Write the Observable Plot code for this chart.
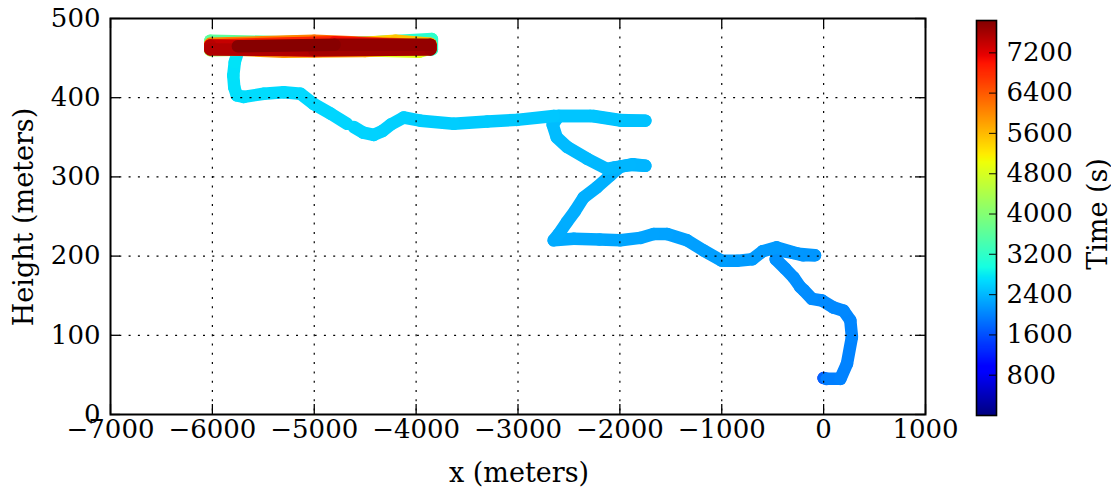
<!DOCTYPE html>
<html><head><meta charset="utf-8">
<script src="https://cdn.jsdelivr.net/npm/d3@7"></script>
<script src="https://cdn.jsdelivr.net/npm/@observablehq/plot@0.6"></script>
<style>
body{margin:0;background:#fff;}
#wrap{position:relative;width:1111px;height:491px;font-family:"DejaVu Serif",serif;background:#fff;overflow:hidden}
.lbl{position:absolute;font-size:27px;line-height:1;white-space:nowrap;transform:translate(-50%,-50%);color:#000}
.rot{transform:translate(-50%,-50%) rotate(-90deg);}
</style></head><body>
<div id="wrap">
 <div id="main" style="position:absolute;left:0;top:0"></div>
 <div id="cbar" style="position:absolute;left:940px;top:0"></div>
 <div class="lbl" style="left:519px;top:472px">x (meters)</div>
 <div class="lbl rot" style="left:23px;top:217px">Height (meters)</div>
 <div class="lbl rot" style="left:1097px;top:214px">Time (s)</div>
</div>
<script>
// ---- data ----
const xTicks = [-7000, -6000, -5000, -4000, -3000, -2000, -1000, 0, 1000];
const yTicks = [0, 100, 200, 300, 400, 500];
const cbTicks = [800, 1600, 2400, 3200, 4000, 4800, 5600, 6400, 7200];
const tMin = 0, tMax = 7842;

// leg 1: take-off to the gap near x = -4650
const leg1X = [0, 0, 30, 164, 229, 278, 262, 196, 98, -16, -115, -196, -229, -295, -376, -470, -440, -300, -200, -85, -250, -460, -600, -700, -850, -998, -1178, -1341, -1537, -1668, -1800, -1995, -2200, -2454, -2650, -2600, -2520, -2440, -2356, -2224, -2093, -1995, -1870, -1750, -1900, -2050, -2126, -2322, -2519, -2620, -2660, -2600, -2290, -1995, -1750, -2000, -2258, -2650, -3010, -3300, -3631, -3958, -4122, -4250, -4330, -4416, -4520, -4612];
const leg1Y = [46, 46, 45, 45, 64, 98, 119, 131, 135, 144, 146, 157, 161, 173, 184, 196, 207, 204, 201, 201, 203, 211, 206, 196, 194, 194, 207, 220, 228, 228, 223, 220, 221, 222, 220, 228, 243, 257, 274, 287, 302, 313, 316, 314, 315, 312, 310, 323, 338, 350, 366, 377, 377, 371, 371, 372, 377, 377, 372, 370, 367, 371, 375, 366, 358, 353, 356, 363];
const leg1T = [0, 1570, 1950, 1970, 1985, 2000, 2010, 2020, 2030, 2040, 2050, 2060, 2065, 2075, 2085, 2095, 2100, 2110, 2120, 2130, 2140, 2150, 2160, 2170, 2180, 2190, 2200, 2210, 2220, 2230, 2240, 2250, 2265, 2280, 2290, 2297, 2305, 2313, 2320, 2330, 2340, 2350, 2360, 2370, 2380, 2390, 2395, 2405, 2415, 2422, 2430, 2435, 2450, 2460, 2470, 2480, 2490, 2505, 2520, 2535, 2550, 2565, 2575, 2582, 2588, 2595, 2600, 2605];

// leg 2: after the gap, climb to the 465 m level and the back-and-forth passes
const leg2X = [-4677, -4841, -5005, -5135, -5299, -5496, -5692, -5760, -5785, -5795, -5780, -5740,
  -5700, -5000, -4400, -3845, -3845, -4600, -5400, -6020, -6020, -5300, -4500, -3860, -3860, -4800, -6020, -6020, -5200, -4200, -3860, -3860, -3970, -4800, -6020, -6020, -5000, -4200, -3860, -3860, -4500, -5300, -6020, -6020, -5000, -3860, -3860, -5000, -6020, -6020, -4800, -3860, -3860, -5000, -6020, -6020, -5000, -3860, -3860, -4800, -5750];
const leg2Y = [367, 380, 392, 405, 407, 405, 401, 403, 413, 428, 445, 462,
  465, 468, 470, 474, 461, 466, 468, 471, 472, 470, 466, 463, 467, 462, 460, 466, 471, 467, 465, 462, 458, 461, 464, 463, 465, 472, 468, 464, 459, 458, 462, 468, 472, 466, 463, 459, 464, 466, 470, 465, 462, 463, 466, 461, 460, 461, 467, 467, 465];
const leg2T = [2615, 2625, 2635, 2645, 2655, 2665, 2680, 2690, 2700, 2710, 2720, 2740,
  2760, 2900, 3030, 3150, 3170, 3300, 3430, 3550, 3560, 3700, 3830, 3950, 3960, 4150, 4350, 4360, 4500, 4650, 4750, 4760, 4800, 4980, 5150, 5160, 5320, 5470, 5550, 5560, 5700, 5850, 5950, 5960, 6150, 6350, 6360, 6550, 6750, 6760, 6950, 7100, 7110, 7300, 7450, 7460, 7550, 7650, 7660, 7750, 7842];

// ---- build links between consecutive samples ----
function linksOf(X, Y, T) {
  const out = [];
  for (let i = 0; i < X.length - 1; i++)
    out.push({x1: X[i], y1: Y[i], x2: X[i + 1], y2: Y[i + 1], t: (T[i] + T[i + 1]) / 2});
  return out;
}
const links = [...linksOf(leg1X, leg1Y, leg1T), ...linksOf(leg2X, leg2Y, leg2T)];

// ---- jet colormap as a piecewise linear Plot color scale ----
function pw(f, pts) {
  for (let i = 0; i < pts.length - 1; i++) {
    const [a, va] = pts[i], [b, vb] = pts[i + 1];
    if (f <= b) return va + (vb - va) * (f - a) / (b - a);
  }
  return pts[pts.length - 1][1];
}
const JR = [[0,0],[0.35,0],[0.66,1],[0.89,1],[1,0.5]];
const JG = [[0,0],[0.125,0],[0.375,1],[0.64,1],[0.91,0],[1,0]];
const JB = [[0,0.5],[0.11,1],[0.34,1],[0.65,0],[1,0]];
const jetStops = [0, 0.11, 0.125, 0.34, 0.35, 0.375, 0.64, 0.65, 0.66, 0.89, 0.91, 1];
const colorScale = {
  type: "linear",
  domain: jetStops.map(f => tMin + f * (tMax - tMin)),
  range: jetStops.map(f => d3.rgb(255 * pw(f, JR), 255 * pw(f, JG), 255 * pw(f, JB)).formatHex()),
  interpolate: d3.interpolateRgb
};

const fmt = d => d < 0 ? "\u2212" + Math.abs(d) : String(d);
const FONT = {fontFamily: "DejaVu Serif", fontSize: "26px", background: "white", overflow: "visible"};
const grid = {stroke: "#000", strokeWidth: 1.2, strokeDasharray: "2,7.3"};
const tick = {stroke: "#000", strokeWidth: 1.3};

// ---- main chart ----
const main = Plot.plot({
  width: 960, height: 491,
  marginLeft: 110, marginRight: 35, marginTop: 18, marginBottom: 77,
  style: FONT,
  x: {domain: [-7000, 1000], axis: null},
  y: {domain: [0, 500], axis: null},
  color: colorScale,
  marks: [
    Plot.link(links, {x1: "x1", y1: "y1", x2: "x2", y2: "y2", stroke: "t", strokeWidth: 12.5, strokeLinecap: "round", strokeLinejoin: "round"}),
    Plot.ruleX(xTicks.slice(1, -1), {x: d => d, ...grid}),
    Plot.ruleY(yTicks.slice(1, -1), {y: d => d, ...grid}),
    Plot.ruleX(xTicks, {x: d => d, insetTop: 386, ...tick}),
    Plot.ruleX(xTicks, {x: d => d, insetBottom: 386, ...tick}),
    Plot.ruleY(yTicks, {y: d => d, insetRight: 805, ...tick}),
    Plot.ruleY(yTicks, {y: d => d, insetLeft: 805, ...tick}),
    Plot.frame({stroke: "#000", strokeWidth: 2}),
    Plot.text(xTicks, {x: d => d, frameAnchor: "bottom", dy: 23, text: fmt, fontSize: 26, fill: "#000"}),
    Plot.text(yTicks, {y: d => d, frameAnchor: "left", dx: -10, textAnchor: "end", text: fmt, fontSize: 26, fill: "#000"})
  ]
});
document.getElementById("main").appendChild(main);

// ---- colorbar ----
const step = 20;
const strips = d3.range(tMin, tMax, step);
const cbar = Plot.plot({
  width: 171, height: 491,
  marginLeft: 36, marginRight: 115, marginTop: 20, marginBottom: 76,
  style: {...FONT, background: "transparent"},
  x: {domain: [0, 1], axis: null},
  y: {domain: [tMin, tMax], axis: null},
  color: colorScale,
  marks: [
    Plot.rect(strips, {x1: 0, x2: 1, y1: d => d, y2: d => Math.min(d + 3 * step, tMax), fill: d => d + step / 2, shapeRendering: "crispEdges"}),
    Plot.ruleY(cbTicks, {y: d => d, insetLeft: 13, stroke: "#000", strokeWidth: 1.2, strokeOpacity: 0.8}),
    Plot.frame({stroke: "#000", strokeWidth: 1.6}),
    Plot.text(cbTicks, {y: d => d, frameAnchor: "right", dx: 10, textAnchor: "start", text: fmt, fontSize: 26, fill: "#000"})
  ]
});
document.getElementById("cbar").appendChild(cbar);
</script>
</body></html>
